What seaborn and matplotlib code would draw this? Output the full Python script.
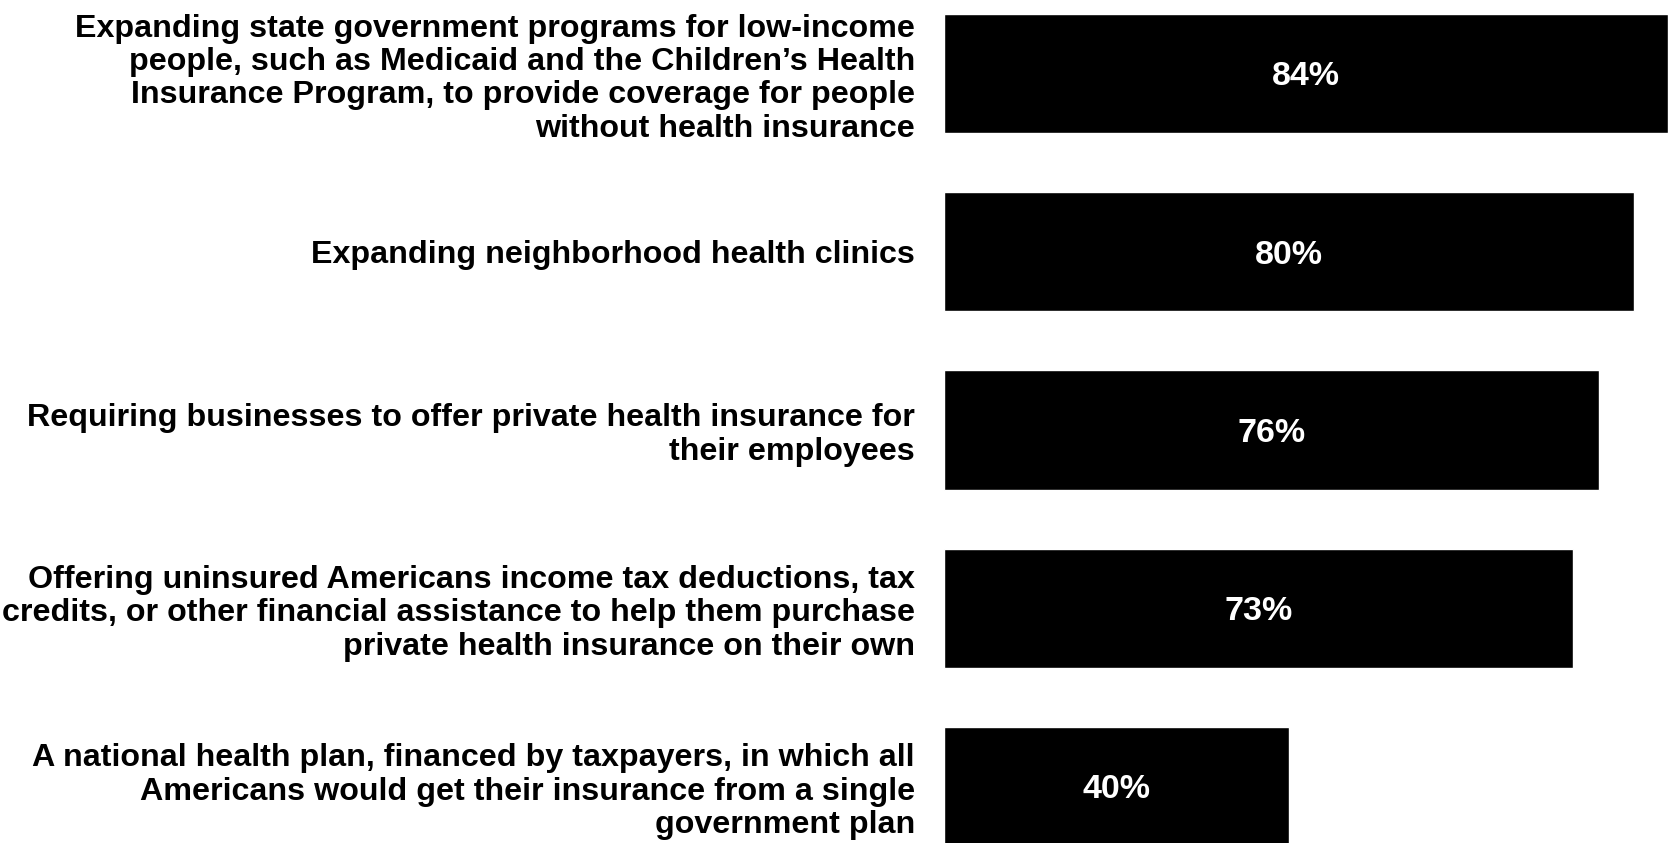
import matplotlib
matplotlib.use("Agg")
import matplotlib.pyplot as plt
import seaborn as sns
import pandas as pd

categories = [
    "Expanding state government programs for low-income\npeople, such as Medicaid and the Children\u2019s Health\nInsurance Program, to provide coverage for people\nwithout health insurance",
    "Expanding neighborhood health clinics",
    "Requiring businesses to offer private health insurance for\ntheir employees",
    "Offering uninsured Americans income tax deductions, tax\ncredits, or other financial assistance to help them purchase\nprivate health insurance on their own",
    "A national health plan, financed by taxpayers, in which all\nAmericans would get their insurance from a single\ngovernment plan",
]
values = [84, 80, 76, 73, 40]

sns.set_theme(style="white")
plt.rcParams["font.family"] = ["Liberation Sans", "DejaVu Sans"]

df = pd.DataFrame({"cat": categories, "val": values})

fig = plt.figure(figsize=(16.68, 8.43), dpi=100)
ax = fig.add_axes([944 / 1668, 0, 1 - 944 / 1668, 1])
sns.barplot(data=df, y="cat", x="val", orient="h", color="black",
            width=0.668, saturation=1, ax=ax)

ax.set_xlim(0, 84)
top = -73.5 / 178.25
bottom = (843 - 73.5) / 178.25
ax.set_ylim(bottom, top)

for i, v in enumerate(values):
    ax.text(v / 2, i, f"{v}%", color="white", fontsize=24.5, fontweight="bold",
            ha="center", va="center_baseline")

ax.set_xlabel("")
ax.set_ylabel("")
ax.set_xticks([])
ax.tick_params(axis="y", length=0, pad=21)
for lbl in ax.get_yticklabels():
    lbl.set_fontsize(23.2)
    lbl.set_fontweight("bold")
    lbl.set_color("black")
    lbl.set_horizontalalignment("right")
    lbl.set_multialignment("right")
    lbl.set_linespacing(1.15)
for s in ax.spines.values():
    s.set_visible(False)

fig.savefig("out.png", dpi=100)
